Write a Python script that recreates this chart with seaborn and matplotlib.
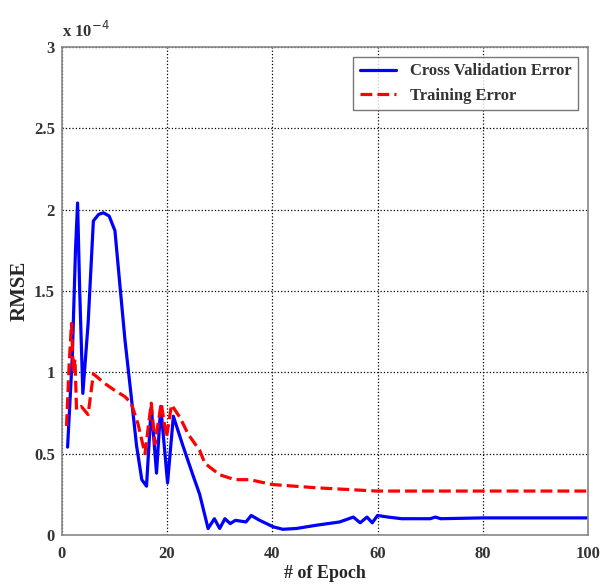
import matplotlib
matplotlib.use("Agg")
import matplotlib.pyplot as plt
import seaborn as sns
import pandas as pd
from matplotlib.ticker import FuncFormatter

# Cross validation error (units of 1e-4)
cv_epoch = [1.1, 2.0, 2.6, 3.0, 3.4, 4.0, 5.0, 6.0, 7.0, 7.9, 9.0, 10.1, 11.0, 12.0, 13.2, 14.2, 15.2, 16.1,
            17.0, 18.0, 18.8, 20.1, 21.2, 23.0, 25.0, 26.2, 27.8, 29.0, 30.0, 31.0, 32.0, 33.0, 35.0, 36.0,
            37.6, 40.2, 42.0, 44.6, 48.4, 52.8, 55.4, 56.7, 58.0, 59.0, 60.0, 62.0, 64.6, 70.0, 71.0, 72.0,
            80.0, 90.0, 100.0]
cv_rmse = [0.54, 1.10, 1.75, 2.04, 1.50, 0.87, 1.30, 1.93, 1.97, 1.98, 1.96, 1.87, 1.55, 1.20, 0.85, 0.55, 0.34, 0.30,
           0.79, 0.38, 0.79, 0.32, 0.73, 0.55, 0.36, 0.25, 0.04, 0.10, 0.04, 0.10, 0.07, 0.09, 0.08, 0.12,
           0.09, 0.05, 0.035, 0.04, 0.06, 0.08, 0.11, 0.075, 0.11, 0.075, 0.12, 0.11, 0.10, 0.10, 0.11, 0.10,
           0.105, 0.105, 0.105]

# Training error (units of 1e-4)
tr_epoch = [0.9, 1.4, 1.84, 2.2, 2.5, 2.8, 3.7, 5.0, 6.0, 8.2, 10.0, 12.0, 13.2, 14.5, 15.8,
            17.0, 17.7, 18.9, 19.9, 20.85, 22.5, 24.0, 26.2, 27.2, 30.0, 32.9, 35.7, 40.0, 48.4,
            59.8, 70.0, 80.0, 90.0, 100.0]
tr_rmse = [0.67, 1.05, 1.30, 1.00, 1.08, 0.77, 0.79, 0.74, 0.99, 0.93, 0.89, 0.85, 0.81, 0.68, 0.50,
           0.81, 0.56, 0.81, 0.60, 0.80, 0.72, 0.62, 0.52, 0.44, 0.37, 0.34, 0.34, 0.31, 0.29,
           0.27, 0.27, 0.27, 0.27, 0.27]

x_ticks = [0, 20, 40, 60, 80, 100]
y_ticks = [0, 0.5, 1, 1.5, 2, 2.5, 3]

sns.set_style("white")
serif = ["Liberation Serif", "DejaVu Serif"]
plt.rcParams["font.family"] = serif

cv = pd.DataFrame({"epoch": cv_epoch, "rmse": cv_rmse})
tr = pd.DataFrame({"epoch": tr_epoch, "rmse": tr_rmse})

fig = plt.figure(figsize=(6.0, 5.85), dpi=100)
ax = fig.add_axes([0.103, 0.0855, 0.877, 0.8345])

sns.lineplot(data=cv, x="epoch", y="rmse", ax=ax, color="#0000ff", linewidth=2.3,
             label="Cross Validation Error", estimator=None, sort=False)
sns.lineplot(data=tr, x="epoch", y="rmse", ax=ax, color="#ff0000", linewidth=2.3,
             linestyle="--", dashes=(3, 1.8), label="Training Error", estimator=None, sort=False)

ax.set_xlim(0, 100)
ax.set_ylim(0, 3)
ax.set_xticks(x_ticks)
ax.set_yticks(y_ticks)
ax.yaxis.set_major_formatter(FuncFormatter(lambda v, p: "%g" % v))
ax.grid(True, color="black", linestyle=":", linewidth=0.9)
ax.tick_params(direction="in", length=4, labelsize=12, color="#555555")
ax.tick_params(axis="x", pad=8)
ax.tick_params(axis="y", pad=5)
for lab in ax.get_xticklabels() + ax.get_yticklabels():
    lab.set_fontweight("bold")
    lab.set_color("#333333")
for s in ax.spines.values():
    s.set_color("#888888")
    s.set_linewidth(1.2)

ax.set_xlabel("# of Epoch", fontsize=13, fontweight="bold", labelpad=2)
ax.set_ylabel("RMSE", fontsize=15, fontweight="bold", labelpad=3)
ax.text(0.0, 1.012, "x 10$^{-4}$", transform=ax.transAxes, fontsize=12, fontweight="bold",
        ha="left", va="bottom", color="#333333")

leg = ax.legend(loc="upper right", frameon=True, fancybox=False,
                edgecolor="#555555", borderaxespad=0.6, handlelength=2.2,
                prop={"family": serif, "weight": "bold", "size": 12})
leg.get_frame().set_linewidth(1.0)
for t in leg.get_texts():
    t.set_color("#333333")

fig.savefig("out.png", dpi=100)
